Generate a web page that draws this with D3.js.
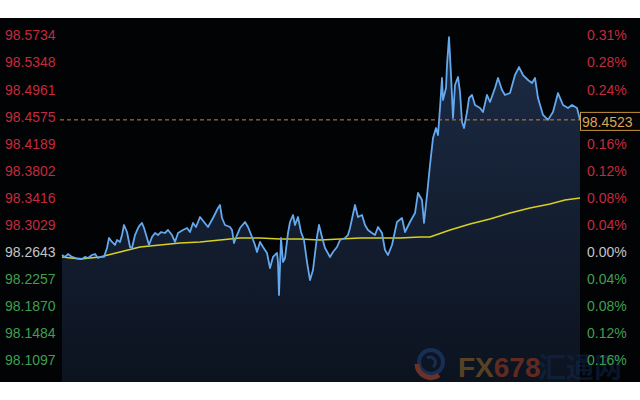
<!DOCTYPE html>
<html><head><meta charset="utf-8">
<script src="https://cdn.jsdelivr.net/npm/d3@7"></script>
<style>html,body{margin:0;padding:0;background:#fff;}svg{display:block;}</style>
</head><body>
<svg id="c" width="640" height="400"></svg>
<script>
// ---- data ----
const steps = [0,3,6,10,14,20,23,26,30,33,36,38,42,45,47,50,53,55,58,60,62,65,68,70,73,76,78,80,82,85,87,90,93,96,99,103,106,110,113,116,121,125,128,131,134,138,142,146,151,156,158,160,163,168,170,172,175,178,183,186,190,193,195,198,201,205,208,211,215,216,217,219,221,223,226,228,231,233,236,239,242,245,248,251,255,257,260,263,268,271,275,278,283,286,288,293,296,300,303,306,310,313,316,320,323,326,330,335,340,343,348,353,356,360,362,365,368,371,374,376,378,380,381,384,385,387,389,391,393,396,398,400,402,405,407,410,413,418,421,425,428,433,436,440,443,448,453,457,461,466,470,473,476,481,486,491,496,501,506,510,515,518];
const prices = [98.2595,98.2567,98.2609,98.2567,98.2552,98.2538,98.2567,98.2552,98.2595,98.2609,98.2552,98.2567,98.2567,98.2695,98.2838,98.2781,98.2738,98.2809,98.2781,98.2880,98.3023,98.2923,98.2709,98.2695,98.2880,98.2980,98.3023,98.3052,98.2980,98.2838,98.2738,98.2852,98.2909,98.2880,98.2923,98.2909,98.2952,98.2880,98.2781,98.2909,98.2952,98.2980,98.2923,98.3052,98.2995,98.3137,98.3066,98.2995,98.3123,98.3266,98.3308,98.3123,98.3023,98.2995,98.2952,98.2766,98.2880,98.2980,98.3066,98.2995,98.2852,98.2738,98.2638,98.2781,98.2709,98.2624,98.2410,98.2567,98.2624,98.2495,98.2024,98.2838,98.2495,98.2552,98.2909,98.3066,98.3166,98.3023,98.3137,98.2923,98.2809,98.2495,98.2238,98.2381,98.2852,98.3023,98.2852,98.2695,98.2567,98.2638,98.2709,98.2809,98.2838,98.2880,98.2980,98.3308,98.3137,98.3166,98.3023,98.2952,98.2909,98.2880,98.2995,98.2909,98.2666,98.2595,98.2738,98.3066,98.3123,98.2923,98.3066,98.3194,98.3480,98.3380,98.3052,98.3451,98.3879,98.4264,98.4407,98.4307,98.4692,98.5121,98.4807,98.4978,98.5306,98.5705,98.5163,98.4550,98.5021,98.5135,98.4921,98.4493,98.4407,98.4635,98.4835,98.4878,98.4735,98.4692,98.4635,98.4878,98.4778,98.4978,98.5121,98.4949,98.4878,98.4906,98.5163,98.5277,98.5163,98.5092,98.5049,98.5121,98.4835,98.4593,98.4523,98.4635,98.4906,98.4735,98.4692,98.4735,98.4692,98.4523];
const maSteps = [0,18,38,58,78,98,118,138,158,178,198,218,238,258,278,298,318,338,358,368,388,408,428,448,468,488,503,518];
const maValues = [98.2567,98.2538,98.2567,98.2638,98.2709,98.2738,98.2766,98.2781,98.2809,98.2838,98.2838,98.2823,98.2823,98.2809,98.2823,98.2838,98.2838,98.2838,98.2852,98.2852,98.2952,98.3037,98.3109,98.3194,98.3266,98.3323,98.3380,98.3408];
const priceTicks = [98.5734,98.5348,98.4961,98.4575,98.4189,98.3802,98.3416,98.3029,98.2643,98.2257,98.1870,98.1484,98.1097];
const pctLabels = ["0.31%","0.28%","0.24%","0.20%","0.16%","0.12%","0.08%","0.04%","0.00%","0.04%","0.08%","0.12%","0.16%"];
const basePrice = 98.2643;
const lastPrice = 98.4523;

// ---- drawing ----
const svg = d3.select("#c");
const W = 640, H = 400, plotTop = 18, plotBottom = 382;
const x = d3.scaleLinear().domain([0, 518]).range([62, 580]);
const y = d3.scaleLinear().domain([98.1097, 98.5734]).range([360, 35]);

svg.append("rect").attr("x",0).attr("y",plotTop).attr("width",W).attr("height",plotBottom-plotTop).attr("fill","#020305");

const defs = svg.append("defs");
const g = defs.append("linearGradient").attr("id","ag").attr("x1",0).attr("y1",0).attr("x2",0).attr("y2",1);
g.append("stop").attr("offset","0%").attr("stop-color","#1c2b45");
g.append("stop").attr("offset","100%").attr("stop-color","#0c131f");
const clip = defs.append("clipPath").attr("id","cp");
clip.append("rect").attr("x",0).attr("y",plotTop).attr("width",W).attr("height",plotBottom-plotTop);

const pts = steps.map((s,i)=>[s, prices[i]]);
const area = d3.area().x(d=>x(d[0])).y0(plotBottom).y1(d=>y(d[1]));
svg.append("path").datum(pts).attr("d",area).attr("fill","url(#ag)").attr("clip-path","url(#cp)");

// watermark
const wm = svg.append("g").attr("opacity",0.6);
const lc = [431, 362];
wm.append("circle").attr("cx",lc[0]).attr("cy",lc[1]).attr("r",12).attr("fill","none").attr("stroke","#1f3f78").attr("stroke-width",4);
wm.append("path").attr("d",`M${lc[0]-14},${lc[1]+2} A14 14 0 0 0 ${lc[0]+8},${lc[1]+13}`).attr("fill","none").attr("stroke","#b0442a").attr("stroke-width",5);
wm.append("path").attr("d",`M${lc[0]-4},${lc[1]-4} A5 5 0 1 1 ${lc[0]+2},${lc[1]+5}`).attr("fill","none").attr("stroke","#1f3f78").attr("stroke-width",3);
const wt = wm.append("text").attr("x",458).attr("y",377).attr("font-family","Liberation Sans, Arial, sans-serif").attr("font-weight","bold").attr("font-size",28);
wt.append("tspan").attr("fill","#8a6026").text("FX");
wt.append("tspan").attr("fill","#9a3a22").text("678");
wm.append("text").attr("x",538).attr("y",378).attr("font-family","Noto Sans CJK SC, sans-serif").attr("font-weight","bold").attr("font-size",28).attr("fill","#14305a").attr("opacity",0.7).text("汇通网");

// MA line
svg.append("path").datum(maSteps.map((s,i)=>[s, maValues[i]]))
  .attr("d", d3.line().x(d=>x(d[0])).y(d=>y(d[1])))
  .attr("fill","none").attr("stroke","#d8d020").attr("stroke-width",1.5);

// price line
svg.append("path").datum(pts)
  .attr("d", d3.line().x(d=>x(d[0])).y(d=>y(d[1])))
  .attr("fill","none").attr("stroke","#64a8ee").attr("stroke-width",1.8).attr("stroke-linejoin","round");

// dashed last price line
svg.append("line").attr("x1",60).attr("x2",580).attr("y1",y(lastPrice)).attr("y2",y(lastPrice))
  .attr("stroke","#c8863c").attr("stroke-width",1).attr("stroke-dasharray","4,3");

// axes
const colorFor = v => Math.abs(v-basePrice)<1e-6 ? "#c4c4c4" : (v>basePrice ? "#c42a3e" : "#3f9f4e");
const leftAxis = d3.axisLeft(y).tickValues(priceTicks).tickFormat(d3.format(".4f")).tickSize(0);
const la = svg.append("g").attr("transform","translate(5,0)").call(leftAxis);
la.select(".domain").remove();
la.selectAll("text").attr("text-anchor","start").attr("x",0).attr("dy","0.35em")
  .attr("font-family","Liberation Sans, Arial, sans-serif").attr("font-size",14)
  .attr("fill",d=>colorFor(d));

const rightAxis = d3.axisRight(y).tickValues(priceTicks).tickFormat((d,i)=>pctLabels[i]).tickSize(0);
const ra = svg.append("g").attr("transform","translate(587,0)").call(rightAxis);
ra.select(".domain").remove();
ra.selectAll("text").attr("x",0).attr("dy","0.35em")
  .attr("font-family","Liberation Sans, Arial, sans-serif").attr("font-size",14)
  .attr("fill",d=>colorFor(d));

// last price label
const ly = y(lastPrice);
svg.append("rect").attr("x",580.5).attr("y",ly-7.5).attr("width",62).attr("height",18)
  .attr("fill","#050505").attr("stroke","#c8963c").attr("stroke-width",1);
svg.append("text").attr("x",582).attr("y",ly+2).attr("dy","0.35em")
  .attr("font-family","Liberation Sans, Arial, sans-serif").attr("font-size",14)
  .attr("fill","#dca654").text(d3.format(".4f")(lastPrice));
</script>
</body></html>
